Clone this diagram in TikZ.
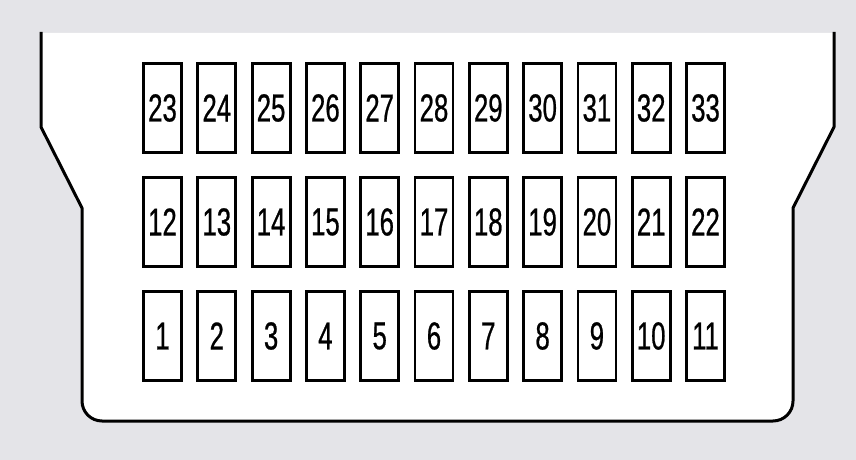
\documentclass[tikz,border=0pt]{standalone}
\usepackage{fontspec}
\newfontfamily\numfont[FakeStretch=0.66,FakeBold=0.6]{Liberation Sans}
\definecolor{bggray}{RGB}{228,228,232}
\begin{document}
\begin{tikzpicture}[x=1pt,y=-1pt,
  pin/.style={draw=black,line width=2.8pt,fill=white,minimum width=38pt,minimum height=89pt,
    inner sep=0pt,font=\numfont\fontsize{39}{39}\selectfont},
  outline/.style={draw=black,line width=3pt,line join=round}]
\fill[bggray] (0,0) rectangle (856,460);
\useasboundingbox (0,0) rectangle (856,460);
\fill[white] (41,33) -- (41,127) -- (82,208) -- (82,401) arc[start angle=180,end angle=90,radius=20]
  -- (773,421) arc[start angle=90,end angle=0,radius=20] -- (793,208) -- (834,127) -- (834,33) -- cycle;
\draw[outline] (41,32) -- (41,127) -- (82,208) -- (82,401) arc[start angle=180,end angle=90,radius=20]
  -- (773,421) arc[start angle=90,end angle=0,radius=20] -- (793,208) -- (834,127) -- (834,32);
\foreach \i in {0,...,10}{
  \pgfmathtruncatemacro{\a}{\i+1}
  \pgfmathtruncatemacro{\b}{\i+12}
  \pgfmathtruncatemacro{\c}{\i+23}
  \node[pin] (p\c) at ({162.5+54.3*\i},108) {\c};
  \node[pin] (p\b) at ({162.5+54.3*\i},222) {\b};
  \node[pin] (p\a) at ({162.5+54.3*\i},336) {\a};
}
\end{tikzpicture}
\end{document}
